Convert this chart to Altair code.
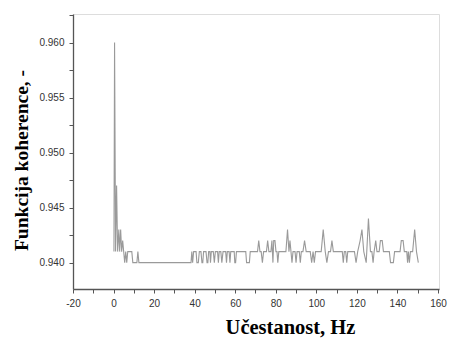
import altair as alt
import pandas as pd

freq = [0.2, 0.5, 1.0, 1.5, 2.0, 2.6, 3.0, 3.5, 4.0, 4.5, 5.0, 5.5, 6.0, 6.5, 7.0, 9.0, 9.5, 11.5, 12.0, 12.5,
        38.2, 38.6, 39.0, 39.5, 40.7, 41.1, 41.8, 42.3, 43.1, 43.6, 44.0, 44.4, 45.6, 46.1, 46.5, 46.9, 47.5, 47.8,
        48.2, 49.2, 49.7, 50.2, 51.3, 51.7, 52.1, 52.9, 53.4, 54.0, 55.3, 55.7, 56.1, 57.0, 57.4, 57.8, 59.5, 59.8,
        60.2, 60.6, 65.2, 65.6, 67.0, 67.4,
        71.0, 71.6, 72.2, 72.8, 73.4, 74.0, 75.4, 76.0, 76.6, 77.6, 78.1, 78.6, 79.0, 79.6, 80.1, 80.6, 81.0, 81.5,
        85.0, 85.8, 86.5, 87.0, 87.5, 88.0, 88.5, 89.5, 90.0, 90.5, 91.6, 92.1, 92.6, 93.4, 94.2, 95.0, 97.0, 97.7,
        98.4, 99.0, 99.6, 102.4, 103.4, 104.4, 105.2, 106.0, 107.0, 107.7, 108.4, 112.8, 113.3, 113.8, 114.5, 115.0,
        115.5, 118.8, 119.6, 120.4, 121.6, 122.5, 123.4, 124.6, 125.7, 126.7, 127.4, 128.0, 128.5, 129.3, 129.9,
        131.0, 131.6, 132.5, 133.1, 136.0, 136.6, 138.0, 138.6, 141.3, 141.9, 142.8, 143.4, 144.6, 145.0, 145.4,
        145.9, 146.4, 147.5, 148.5, 149.4, 150.3]

coherence = [0.941, 0.960, 0.941, 0.947, 0.941, 0.943, 0.941, 0.943, 0.941, 0.942, 0.941, 0.940, 0.941, 0.940,
             0.941, 0.941, 0.940, 0.940, 0.941, 0.940,
             0.940, 0.941, 0.940, 0.941, 0.941, 0.940, 0.940, 0.941, 0.941, 0.940, 0.940, 0.941, 0.941, 0.940,
             0.940, 0.941, 0.941, 0.940, 0.941, 0.941, 0.940, 0.941, 0.941, 0.940, 0.941, 0.941, 0.940, 0.941,
             0.941, 0.940, 0.941, 0.941, 0.940, 0.941, 0.941, 0.940, 0.940, 0.941, 0.941, 0.940, 0.940, 0.941,
             0.941, 0.942, 0.941, 0.941, 0.940, 0.941, 0.941, 0.942, 0.941, 0.941, 0.942, 0.940, 0.942, 0.942,
             0.941, 0.941, 0.940, 0.941,
             0.941, 0.943, 0.941, 0.942, 0.941, 0.940, 0.941, 0.941, 0.940, 0.941, 0.941, 0.940, 0.941, 0.941,
             0.942, 0.941, 0.941, 0.940, 0.941, 0.940, 0.941, 0.941, 0.943, 0.941, 0.940, 0.941, 0.941, 0.942,
             0.941, 0.941, 0.940, 0.941, 0.941, 0.940, 0.941, 0.941, 0.940, 0.941, 0.942, 0.943, 0.941, 0.940,
             0.944, 0.941, 0.941, 0.940, 0.941, 0.942, 0.941, 0.941, 0.942, 0.942, 0.941, 0.941, 0.940, 0.940,
             0.941, 0.941, 0.942, 0.942, 0.941, 0.941, 0.940, 0.941, 0.940, 0.941, 0.941, 0.943, 0.941, 0.940]

x_ticks = list(range(-20, 161, 10))
y_ticks = [0.94, 0.9425, 0.945, 0.9475, 0.95, 0.9525, 0.955, 0.9575, 0.96, 0.9625]

df = pd.DataFrame({"f": freq, "c": coherence})

axis_common = dict(
    grid=False,
    domainColor="#555555",
    domainWidth=1.3,
    tickColor="#555555",
    tickWidth=1,
    tickSize=4,
    labelFont="Liberation Sans",
    labelFontSize=10,
    labelColor="#333333",
    labelPadding=5,
    titleFont="Liberation Serif",
    titleFontWeight="bold",
    titleColor="#000000",
)

chart = alt.Chart(df).mark_line(color="#9a9a9a", strokeWidth=1.1, clip=True).encode(
    x=alt.X("f:Q",
            scale=alt.Scale(domain=[-20, 160.5], nice=False, zero=False),
            axis=alt.Axis(title="Učestanost, Hz", values=x_ticks,
                          labelExpr="datum.value % 20 == 0 ? toString(datum.value) : ''",
                          titleX=217, titleY=44, titleAlign="center", titleBaseline="alphabetic",
                          titleFontSize=20.5, labelFlush=False, **axis_common)),
    y=alt.Y("c:Q",
            scale=alt.Scale(domain=[0.9376, 0.9626], nice=False, zero=False),
            axis=alt.Axis(title="Funkcija koherence, -", values=y_ticks,
                          labelExpr="round(datum.value*10000) % 50 == 0 ? format(datum.value, '.3f') : ''",
                          titleX=-46, titleY=146, titleAngle=-90, titleAlign="center",
                          titleBaseline="alphabetic", titleFontSize=19.5, labelFlush=False, **axis_common)),
    order="f:Q",
).properties(
    width=366, height=275,
    autosize=alt.AutoSizeParams(type="none"),
    padding={"left": 73, "top": 14, "right": 10, "bottom": 51},
).configure_view(stroke=None).configure(background="white")

chart.save("out.html", embed_options={"renderer": "svg", "actions": False})
